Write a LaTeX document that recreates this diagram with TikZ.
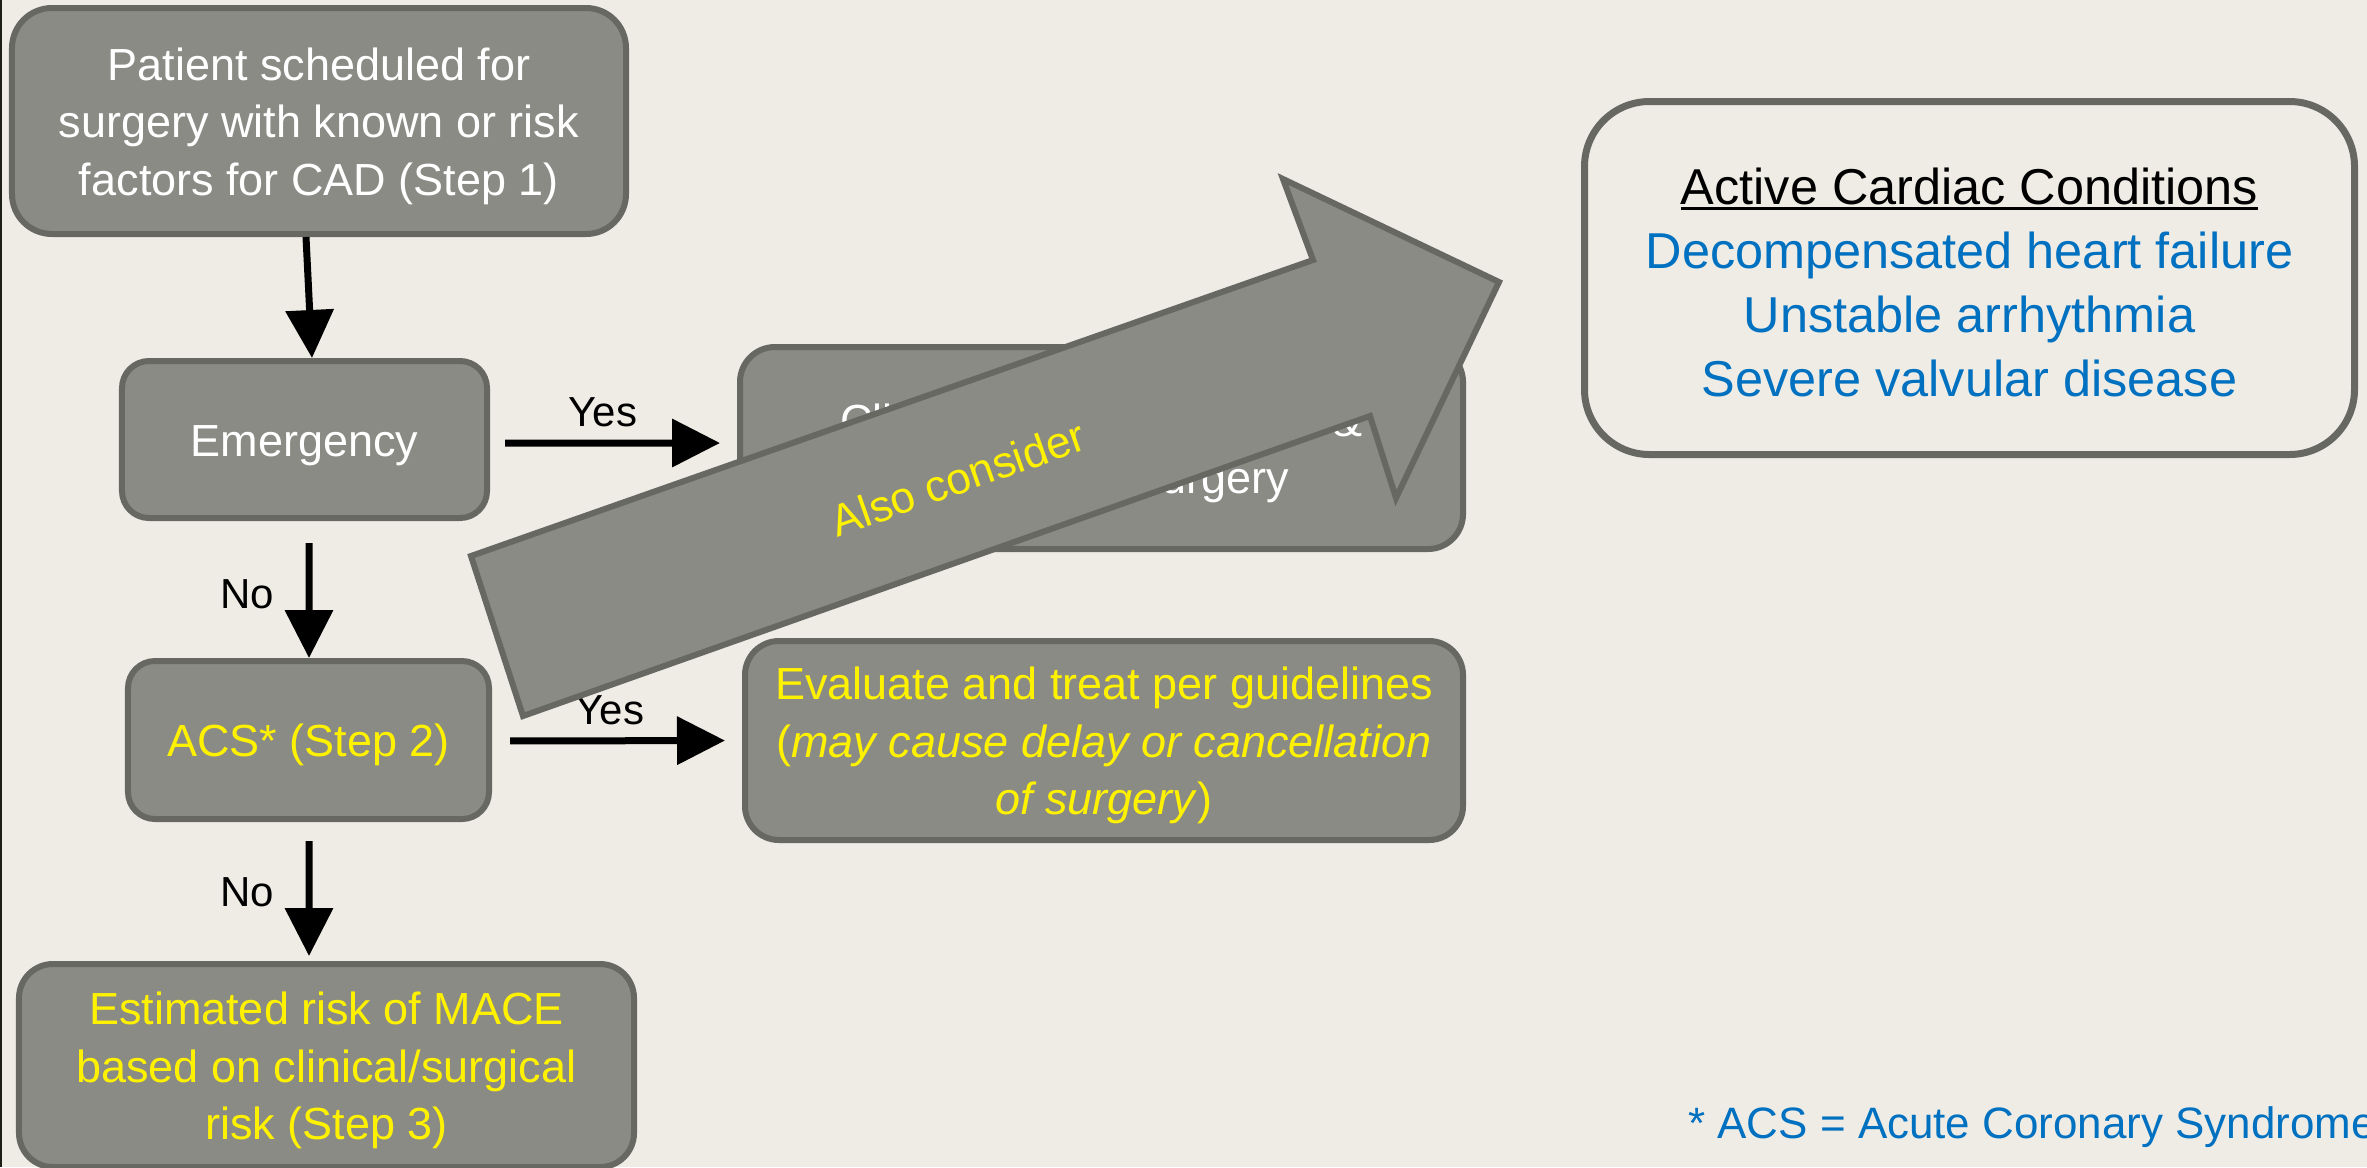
\documentclass[tikz,border=0pt]{standalone}
\usepackage{fontspec}
\setmainfont{Liberation Sans}
\usetikzlibrary{arrows.meta}
\definecolor{slidebg}{HTML}{EEECE5}
\definecolor{boxgray}{HTML}{8B8B85}
\definecolor{edgegray}{HTML}{676862}
\definecolor{condblue}{HTML}{0070C0}
\definecolor{edgedark}{HTML}{1C1E16}
\newcommand{\boxfont}{\fontsize{25.6}{32.7}\selectfont}
\newcommand{\condfont}{\fontsize{28.7}{36.4}\selectfont}
\newcommand{\lblfont}{\fontsize{23.9}{28}\selectfont}
% taller first line, so the text sits a bit lower in its box
\newcommand{\boxstrut}{\rule{0pt}{24.4pt}}
\newcommand{\condstrut}{\rule{0pt}{26.1pt}}
\newsavebox{\titlebox}
\newcommand{\titleline}[1]{\sbox\titlebox{#1}\rlap{\rule[-2.8pt]{\wd\titlebox}{1.6pt}}\usebox\titlebox}
\tikzset{
	flowbox/.style={draw=edgegray, line width=1.2mm, fill=boxgray, rounded corners=#1, align=center, inner sep=0pt, text=white, font=\boxfont},
	flowbox/.default=6.8mm,
	flowarrow/.style={line width=1.4mm, -{Triangle[length=9.6mm,width=9.4mm]}},
	lbl/.style={inner sep=0pt, font=\lblfont},
}

\begin{document}
\begin{tikzpicture}[x=0.2mm, y=-0.2mm]
			%%%%% START %%%%%
			
			\useasboundingbox (0,0) rectangle (2367,1167);
			\fill[slidebg] (0,0) rectangle (2367,1167);
			\fill[edgedark] (0,0) rectangle (2,1167);
			
			\node[flowbox=8mm, minimum width=122.8mm, minimum height=45.2mm] (patient) at (319,121) {\boxstrut Patient scheduled for\\surgery with known or risk\\factors for CAD (Step 1)};
			\node[flowbox=5.4mm, minimum width=73mm, minimum height=31.4mm] (emerg) at (304.5,439.5) {\boxstrut Emergency};
			\node[flowbox=7mm, minimum width=144.6mm, minimum height=40.4mm] (clin) at (1101.5,448) {\boxstrut Clinical risk stratification \&\\proceed to surgery};
			\node[flowbox=5.4mm, minimum width=72.2mm, minimum height=31.6mm, text=yellow] (acs) at (308.5,740) {\boxstrut ACS* (Step 2)};
			\node[flowbox, minimum width=143.6mm, minimum height=39.8mm, text=yellow] (eval) at (1104,740.5) {\boxstrut Evaluate and treat per guidelines\\(\textit{may cause delay or cancellation}\\\textit{of surgery})};
			\node[flowbox, minimum width=123mm, minimum height=40.6mm, text=yellow] (risk) at (326.5,1065.5) {\boxstrut Estimated risk of MACE\\based on clinical/surgical\\risk (Step 3)};
			
			\draw[flowarrow] ([xshift=-2.6mm]patient.south) -- ([xshift=1.5mm]emerg.north);
			\draw[flowarrow, shorten <=3mm, shorten >=3.4mm] ([yshift=-0.7mm]emerg.east) -- ([yshift=1mm]clin.west);
			\draw[flowarrow, shorten <=4.4mm] ([xshift=0.9mm]emerg.south) -- ([xshift=0.1mm]acs.north);
			\draw[flowarrow, shorten <=3.6mm, shorten >=3.4mm] ([yshift=-0.2mm]acs.east) -- (eval.west);
			\draw[flowarrow, shorten <=3.8mm, shorten >=1mm] ([xshift=0.1mm]acs.south) -- ([xshift=-3.5mm]risk.north);
			
			\node[lbl] (yes1) at (603,412) {Yes};
			\node[lbl] (yes2) at (610,710) {Yes};
			\node[lbl] (no1) at (247,594) {No};
			\node[lbl] (no2) at (247,892) {No};
			
			% big arrow over the flow
			\draw[draw=edgegray, line width=1.2mm, fill=boxgray] (471,556) -- (1313,260) -- (1283,179) -- (1499,282) -- (1396,498) -- (1370,416) -- (523,716) -- cycle;
			\node[rotate=19.4, text=yellow, inner sep=0pt, font=\fontsize{25.2}{30}\selectfont] (also) at (958,478) {Also consider};
			
			\node[draw=edgegray, line width=1.4mm, fill=slidebg, rounded corners=13mm, minimum width=154mm, minimum height=70.6mm, align=center, inner sep=0pt, font=\condfont, text=condblue] (active) at (1969.5,278) {\condstrut\textcolor{black}{\titleline{Active Cardiac Conditions}}\\Decompensated heart failure\\Unstable arrhythmia\\Severe valvular disease};
			
			\node[anchor=west, inner sep=0pt, text=condblue, font=\fontsize{25}{30}\selectfont] (footnote) at (1688,1127) {* ACS = Acute Coronary Syndrome};
			
			%%%%% END %%%%%
\end{tikzpicture}
\end{document}
